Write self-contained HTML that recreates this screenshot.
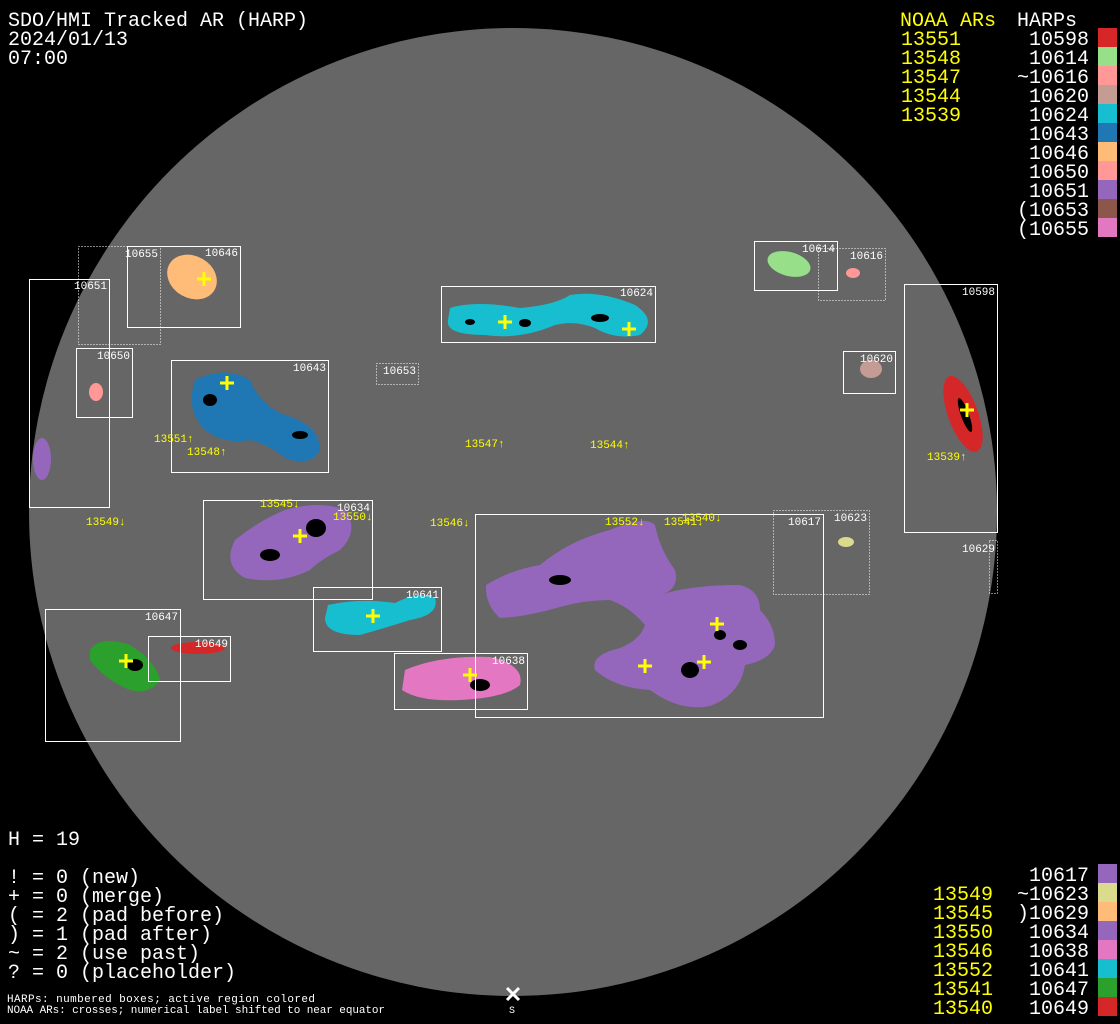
<!DOCTYPE html>
<html><head><meta charset="utf-8"><style>
html,body{margin:0;padding:0;background:#000;width:1120px;height:1024px;overflow:hidden}
svg{display:block}
text{font-family:"Liberation Mono","DejaVu Sans Mono",monospace}
</style></head><body>
<svg width="1120" height="1024" viewBox="0 0 1120 1024" xmlns="http://www.w3.org/2000/svg">
<rect width="1120" height="1024" fill="#000"/>
<circle cx="513" cy="512" r="484" fill="#666"/>
<g>
<ellipse cx="192" cy="277" rx="26" ry="21" fill="#ffbb78" transform="rotate(30 192 277)"/>
<ellipse cx="96" cy="392" rx="7" ry="9" fill="#ff9896"/>
<ellipse cx="42" cy="459" rx="9" ry="21" fill="#9467bd"/>
<path d="M195 380 Q225 365 250 380 Q260 405 285 415 Q320 425 320 450 Q310 468 285 458 Q270 445 250 440 Q225 445 205 430 Q185 410 195 380Z" fill="#1f77b4"/>
<path d="M450 308 Q475 300 520 308 Q555 305 570 295 Q600 290 635 305 Q658 320 640 335 Q615 340 595 328 Q575 320 555 325 Q520 340 485 335 Q445 335 448 320Z" fill="#17becf"/>
<ellipse cx="789" cy="264" rx="22" ry="12" fill="#98df8a" transform="rotate(15 789 264)"/>
<ellipse cx="853" cy="273" rx="7" ry="5" fill="#ff9896"/>
<ellipse cx="871" cy="369" rx="11" ry="9" fill="#c49c94"/>
<ellipse cx="963" cy="414" rx="15" ry="40" fill="#d62728" transform="rotate(-20 963 414)"/>
<path d="M235 540 Q260 520 285 510 Q320 500 345 510 Q360 530 340 550 Q320 560 310 570 Q280 585 245 578 Q222 565 235 540Z" fill="#9467bd"/>
<path d="M328 605 Q360 598 395 603 Q420 590 435 598 Q440 615 410 620 Q385 628 360 635 Q325 635 325 618Z" fill="#17becf"/>
<path d="M90 650 Q100 635 130 645 Q155 660 160 680 Q150 695 130 690 Q105 680 90 660Z" fill="#2ca02c"/>
<ellipse cx="198" cy="648" rx="27" ry="6" fill="#d62728"/>
<path d="M405 670 Q440 655 490 657 Q525 665 520 685 Q505 698 460 700 Q420 702 402 690Z" fill="#e377c2"/>
<path d="M486 585 Q510 570 540 565 Q570 540 610 530 Q645 515 655 525 Q660 550 675 570 Q680 590 660 595 Q690 585 740 585 Q760 590 760 610 Q775 625 775 645 Q770 660 745 665 Q740 695 710 706 Q680 712 650 690 Q615 688 595 670 Q590 655 620 648 Q640 640 645 625 Q630 607 610 600 Q585 600 560 607 Q525 617 500 618 Q485 605 486 585Z" fill="#9467bd"/>
<ellipse cx="846" cy="542" rx="8" ry="5" fill="#dbdb8d"/>
</g>
<g fill="#000">
<ellipse cx="316" cy="528" rx="10" ry="9"/>
<ellipse cx="210" cy="400" rx="7" ry="6"/>
<ellipse cx="270" cy="555" rx="10" ry="6"/>
<ellipse cx="690" cy="670" rx="9" ry="8"/>
<ellipse cx="720" cy="635" rx="6" ry="5"/>
<ellipse cx="480" cy="685" rx="10" ry="6"/>
<ellipse cx="135" cy="665" rx="8" ry="6"/>
<ellipse cx="965" cy="415" rx="4" ry="18" transform="rotate(-20 965 415)"/>
<ellipse cx="600" cy="318" rx="9" ry="4"/>
<ellipse cx="525" cy="323" rx="6" ry="4"/>
<ellipse cx="470" cy="322" rx="5" ry="3"/>
<ellipse cx="560" cy="580" rx="11" ry="5"/>
<ellipse cx="740" cy="645" rx="7" ry="5"/>
<ellipse cx="300" cy="435" rx="8" ry="4"/>
</g>
<g fill="none" stroke="#fff" stroke-width="1">
<rect x="127.5" y="246.5" width="113" height="81"/>
<rect x="29.5" y="279.5" width="80" height="228"/>
<rect x="76.5" y="348.5" width="56" height="69"/>
<rect x="171.5" y="360.5" width="157" height="112"/>
<rect x="441.5" y="286.5" width="214" height="56"/>
<rect x="754.5" y="241.5" width="83" height="49"/>
<rect x="843.5" y="351.5" width="52" height="42"/>
<rect x="904.5" y="284.5" width="93" height="248"/>
<rect x="203.5" y="500.5" width="169" height="99"/>
<rect x="313.5" y="587.5" width="128" height="64"/>
<rect x="45.5" y="609.5" width="135" height="132"/>
<rect x="148.5" y="636.5" width="82" height="45"/>
<rect x="394.5" y="653.5" width="133" height="56"/>
<rect x="475.5" y="514.5" width="348" height="203"/>
</g>
<g fill="none" stroke="#fff" stroke-width="1" stroke-dasharray="1 2">
<rect x="78.5" y="246.5" width="82" height="98"/>
<rect x="376.5" y="363.5" width="42" height="21"/>
<rect x="818.5" y="248.5" width="67" height="52"/>
<rect x="773.5" y="510.5" width="96" height="84"/>
<rect x="989.5" y="540.5" width="8" height="53"/>
</g>
<g fill="#fff" font-size="11">
<text x="125" y="257">10655</text>
<text x="205" y="256">10646</text>
<text x="74" y="289">10651</text>
<text x="97" y="359">10650</text>
<text x="293" y="371">10643</text>
<text x="383" y="374">10653</text>
<text x="620" y="296">10624</text>
<text x="802" y="252">10614</text>
<text x="850" y="259">10616</text>
<text x="860" y="362">10620</text>
<text x="962" y="295">10598</text>
<text x="337" y="511">10634</text>
<text x="406" y="598">10641</text>
<text x="145" y="620">10647</text>
<text x="195" y="647">10649</text>
<text x="492" y="664">10638</text>
<text x="788" y="525">10617</text>
<text x="834" y="521">10623</text>
<text x="962" y="552">10629</text>
</g>
<g stroke="#ff0" stroke-width="3">
<path d="M197 279h14M204 272v14"/>
<path d="M220 383h14M227 376v14"/>
<path d="M498 322h14M505 315v14"/>
<path d="M622 329h14M629 322v14"/>
<path d="M960 410h14M967 403v14"/>
<path d="M293 536h14M300 529v14"/>
<path d="M366 616h14M373 609v14"/>
<path d="M119 661h14M126 654v14"/>
<path d="M463 675h14M470 668v14"/>
<path d="M710 624h14M717 617v14"/>
<path d="M638 666h14M645 659v14"/>
<path d="M697 662h14M704 655v14"/>
</g>
<g fill="#ff0" font-size="11">
<text x="154" y="442">13551↑</text>
<text x="187" y="455">13548↑</text>
<text x="465" y="447">13547↑</text>
<text x="590" y="448">13544↑</text>
<text x="927" y="460">13539↑</text>
<text x="86" y="525">13549↓</text>
<text x="260" y="507">13545↓</text>
<text x="333" y="520">13550↓</text>
<text x="430" y="526">13546↓</text>
<text x="605" y="525">13552↓</text>
<text x="664" y="525">13541↓</text>
<text x="682" y="521">13540↓</text>
</g>
<path d="M507 988l12 12M519 988l-12 12" stroke="#fff" stroke-width="3"/>
<text x="509" y="1013" fill="#fff" font-size="10">S</text>
<g fill="#fff" font-size="20">
<text x="8" y="26">SDO/HMI Tracked AR (HARP)</text>
<text x="8" y="45">2024/01/13</text>
<text x="8" y="64">07:00</text>
<text x="8" y="845">H = 19</text>
<text x="8" y="883">! = 0 (new)</text>
<text x="8" y="902">+ = 0 (merge)</text>
<text x="8" y="921">( = 2 (pad before)</text>
<text x="8" y="940">) = 1 (pad after)</text>
<text x="8" y="959">~ = 2 (use past)</text>
<text x="8" y="978">? = 0 (placeholder)</text>
</g>
<g fill="#fff" font-size="11">
<text x="7" y="1002" textLength="308">HARPs: numbered boxes; active region colored</text>
<text x="7" y="1013" textLength="378">NOAA ARs: crosses; numerical label shifted to near equator</text>
</g>
<g font-size="20">
<text x="900" y="26" fill="#ff0">NOAA ARs</text>
<text x="1017" y="26" fill="#fff">HARPs</text>
<g fill="#ff0">
<text x="901" y="45">13551</text><text x="901" y="64">13548</text><text x="901" y="83">13547</text><text x="901" y="102">13544</text><text x="901" y="121">13539</text>
</g>
<g fill="#fff" text-anchor="end">
<text x="1089" y="45">10598</text><text x="1089" y="64">10614</text><text x="1089" y="83">~10616</text><text x="1089" y="102">10620</text><text x="1089" y="121">10624</text><text x="1089" y="140">10643</text><text x="1089" y="159">10646</text><text x="1089" y="178">10650</text><text x="1089" y="197">10651</text><text x="1089" y="216">(10653</text><text x="1089" y="235">(10655</text>
<text x="1089" y="881">10617</text><text x="1089" y="900">~10623</text><text x="1089" y="919">)10629</text><text x="1089" y="938">10634</text><text x="1089" y="957">10638</text><text x="1089" y="976">10641</text><text x="1089" y="995">10647</text><text x="1089" y="1014">10649</text>
</g>
<g fill="#ff0">
<text x="933" y="900">13549</text><text x="933" y="919">13545</text><text x="933" y="938">13550</text><text x="933" y="957">13546</text><text x="933" y="976">13552</text><text x="933" y="995">13541</text><text x="933" y="1014">13540</text>
</g>
</g>
<g>
<rect x="1098" y="28" width="19" height="19" fill="#d62728"/>
<rect x="1098" y="47" width="19" height="19" fill="#98df8a"/>
<rect x="1098" y="66" width="19" height="19" fill="#ff9896"/>
<rect x="1098" y="85" width="19" height="19" fill="#c49c94"/>
<rect x="1098" y="104" width="19" height="19" fill="#17becf"/>
<rect x="1098" y="123" width="19" height="19" fill="#1f77b4"/>
<rect x="1098" y="142" width="19" height="19" fill="#ffbb78"/>
<rect x="1098" y="161" width="19" height="19" fill="#ff9896"/>
<rect x="1098" y="180" width="19" height="19" fill="#9467bd"/>
<rect x="1098" y="199" width="19" height="19" fill="#8c564b"/>
<rect x="1098" y="218" width="19" height="19" fill="#e377c2"/>
<rect x="1098" y="864" width="19" height="19" fill="#9467bd"/>
<rect x="1098" y="883" width="19" height="19" fill="#dbdb8d"/>
<rect x="1098" y="902" width="19" height="19" fill="#ffbb78"/>
<rect x="1098" y="921" width="19" height="19" fill="#9467bd"/>
<rect x="1098" y="940" width="19" height="19" fill="#e377c2"/>
<rect x="1098" y="959" width="19" height="19" fill="#17becf"/>
<rect x="1098" y="978" width="19" height="19" fill="#2ca02c"/>
<rect x="1098" y="997" width="19" height="19" fill="#d62728"/>
</g>
</svg>
</body></html>
